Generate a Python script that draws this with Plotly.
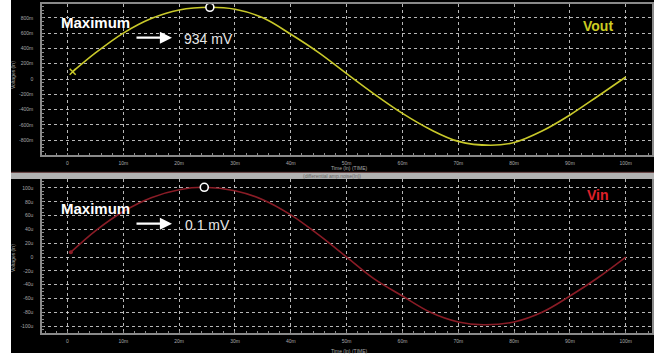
import plotly.graph_objects as go

W, H = 662, 359

# ---- data ----
t_out = [0.93, 5, 10, 15, 20, 25.5, 30, 35, 40, 45, 50, 55, 60, 65, 70, 75.8, 80, 85, 90, 95, 100]
v_out = [95, 340, 600, 790, 902, 937, 911, 800, 585, 345, 70, -200, -450, -660, -815, -866, -830, -680, -470, -225, 26]  # mV

t_in = [0.6, 5, 10, 15, 20, 24.5, 30, 35, 40, 45, 50, 55, 60, 65, 70, 74.5, 80, 85, 90, 95, 100]
v_in = [7, 38, 66, 86, 97.5, 101, 96, 83, 61, 32, 0, -32, -56.5, -80, -94, -98, -94, -80, -56.5, -30, 0]  # uV

x_tickvals = [0, 10, 20, 30, 40, 50, 60, 70, 80, 90, 100]
x_ticktext = ["0", "10m", "20m", "30m", "40m", "50m", "60m", "70m", "80m", "90m", "100m"]
y1_tickvals = [800, 600, 400, 200, 0, -200, -400, -600, -800]
y1_ticktext = ["800m", "600m", "400m", "200m", "0", "-200m", "-400m", "-600m", "-800m"]
y2_tickvals = [100, 80, 60, 40, 20, 0, -20, -40, -60, -80, -100]
y2_ticktext = ["100u", "80u", "60u", "40u", "20u", "0", "-20u", "-40u", "-60u", "-80u", "-100u"]

max_out_t, max_out_v = 25.5, 937
max_in_t, max_in_v = 24.5, 101


def px(x):
    return x / W


def py(y):
    return 1 - y / H


fig = go.Figure()

fig.add_trace(go.Scatter(x=t_out, y=v_out, mode="lines", line=dict(color="#c9c92a", width=1.6, shape="spline"),
                         xaxis="x", yaxis="y", showlegend=False, hoverinfo="skip"))
fig.add_trace(go.Scatter(x=[t_out[0]], y=[v_out[0]], mode="markers",
                         marker=dict(symbol="x-thin", size=6, line=dict(color="#c9c92a", width=1.5)),
                         xaxis="x", yaxis="y", showlegend=False, hoverinfo="skip"))
fig.add_trace(go.Scatter(x=[max_out_t], y=[max_out_v], mode="markers",
                         marker=dict(symbol="circle", size=8, color="black", line=dict(color="white", width=1.6)),
                         xaxis="x", yaxis="y", showlegend=False, hoverinfo="skip"))

fig.add_trace(go.Scatter(x=t_in, y=v_in, mode="lines", line=dict(color="#8a1c26", width=1.6, shape="spline"),
                         xaxis="x2", yaxis="y2", showlegend=False, hoverinfo="skip"))
fig.add_trace(go.Scatter(x=[t_in[0]], y=[v_in[0]], mode="markers",
                         marker=dict(symbol="circle", size=4, color="#8a1c26"),
                         xaxis="x2", yaxis="y2", showlegend=False, hoverinfo="skip"))
fig.add_trace(go.Scatter(x=[max_in_t], y=[max_in_v], mode="markers",
                         marker=dict(symbol="circle", size=8, color="black", line=dict(color="white", width=1.6)),
                         xaxis="x2", yaxis="y2", showlegend=False, hoverinfo="skip"))

tickfont = dict(family="Liberation Sans", size=5, color="#a8a8a8")
grid = dict(showgrid=True, gridcolor="rgba(215,215,215,0.85)", gridwidth=1, griddash="dot", zeroline=False,
            showline=True, linecolor="#8a8a8a", linewidth=1.5, mirror=True, tickfont=tickfont, ticks="")

xdom = [px(42), px(652)]
xrange_ = [-4.57, 104.7]

fig.update_layout(
    width=W, height=H,
    margin=dict(l=0, r=0, t=0, b=0),
    paper_bgcolor="white",
    plot_bgcolor="black",
    xaxis=dict(domain=xdom, range=xrange_, anchor="y", tickvals=x_tickvals, ticktext=x_ticktext,
               ticklabelstandoff=2, minor=dict(ticks="inside", ticklen=2, dtick=2, tickcolor="#8a8a8a", showgrid=False), **grid),
    yaxis=dict(domain=[py(155), py(4)], range=[-993, 980], anchor="x", tickvals=y1_tickvals, ticktext=y1_ticktext,
               ticklabelstandoff=6, minor=dict(ticks="inside", ticklen=2, dtick=50, tickcolor="#8a8a8a", showgrid=False), **grid),
    xaxis2=dict(domain=xdom, range=xrange_, anchor="y2", tickvals=x_tickvals, ticktext=x_ticktext,
                ticklabelstandoff=2, minor=dict(ticks="inside", ticklen=2, dtick=2, tickcolor="#8a8a8a", showgrid=False), **grid),
    yaxis2=dict(domain=[py(333), py(179)], range=[-110, 113], anchor="x2", tickvals=y2_tickvals, ticktext=y2_ticktext,
                ticklabelstandoff=6, minor=dict(ticks="inside", ticklen=2, dtick=5, tickcolor="#8a8a8a", showgrid=False), **grid),
)

shapes = [
    dict(type="rect", xref="paper", yref="paper", x0=px(11), x1=px(654), y0=py(353), y1=py(0),
         fillcolor="black", line=dict(width=0), layer="below"),
    dict(type="rect", xref="paper", yref="paper", x0=px(11), x1=px(654), y0=py(179), y1=py(172),
         fillcolor="#b2b2b2", line=dict(width=0), layer="above"),
    dict(type="line", xref="paper", yref="paper", x0=px(11), x1=px(654), y0=py(172.3), y1=py(172.3),
         line=dict(color="#5a3030", width=1), layer="above"),
]
fig.update_layout(shapes=shapes)

ann = []


def text(x, y, s, size, color, bold=False, xanchor="center", angle=0):
    ann.append(dict(x=px(x), y=py(y), xref="paper", yref="paper", text=("<b>%s</b>" % s) if bold else s,
                    showarrow=False, xanchor=xanchor, yanchor="middle", textangle=angle,
                    font=dict(family="Liberation Sans", size=size, color=color)))


def arrow(x0, x1, y):
    ann.append(dict(x=px(x1), y=py(y), xref="paper", yref="paper", ax=x0 - x1, ay=0, axref="pixel", ayref="pixel",
                    text="", showarrow=True, arrowhead=2, arrowsize=1.1, arrowwidth=2.2, arrowcolor="white"))


# top panel
text(59, 22.5, "Maximum", 15, "white", bold=True, xanchor="left")
arrow(135, 172, 37.7)
text(182, 39.3, "934 mV", 14, "#e6e6e6", xanchor="left")
text(581, 26, "Vout", 14, "#cccc22", bold=True, xanchor="left")
text(13, 75, "Voltages (ln)", 5, "#a8a8a8", angle=-90)
text(349.5, 168.2, "Time (ln) (TIME)", 5, "#a8a8a8")
text(331.7, 176.4, "(differential amp.noise(ln))", 5, "#666666")

# bottom panel
text(59, 208.7, "Maximum", 15, "white", bold=True, xanchor="left")
arrow(135, 172, 223.7)
text(183, 224.7, "0.1 mV", 14, "#e6e6e6", xanchor="left")
text(585, 194.7, "Vin", 14, "#e0202a", bold=True, xanchor="left")
text(13, 258, "Voltages (ln)", 5, "#a8a8a8", angle=-90)
text(349.5, 351, "Time (ln) (TIME)", 5, "#a8a8a8")

fig.update_layout(annotations=ann)

fig.write_html("out.html", config={"displayModeBar": False},
               post_script="document.body.style.margin='0';document.body.style.overflow='hidden';")
